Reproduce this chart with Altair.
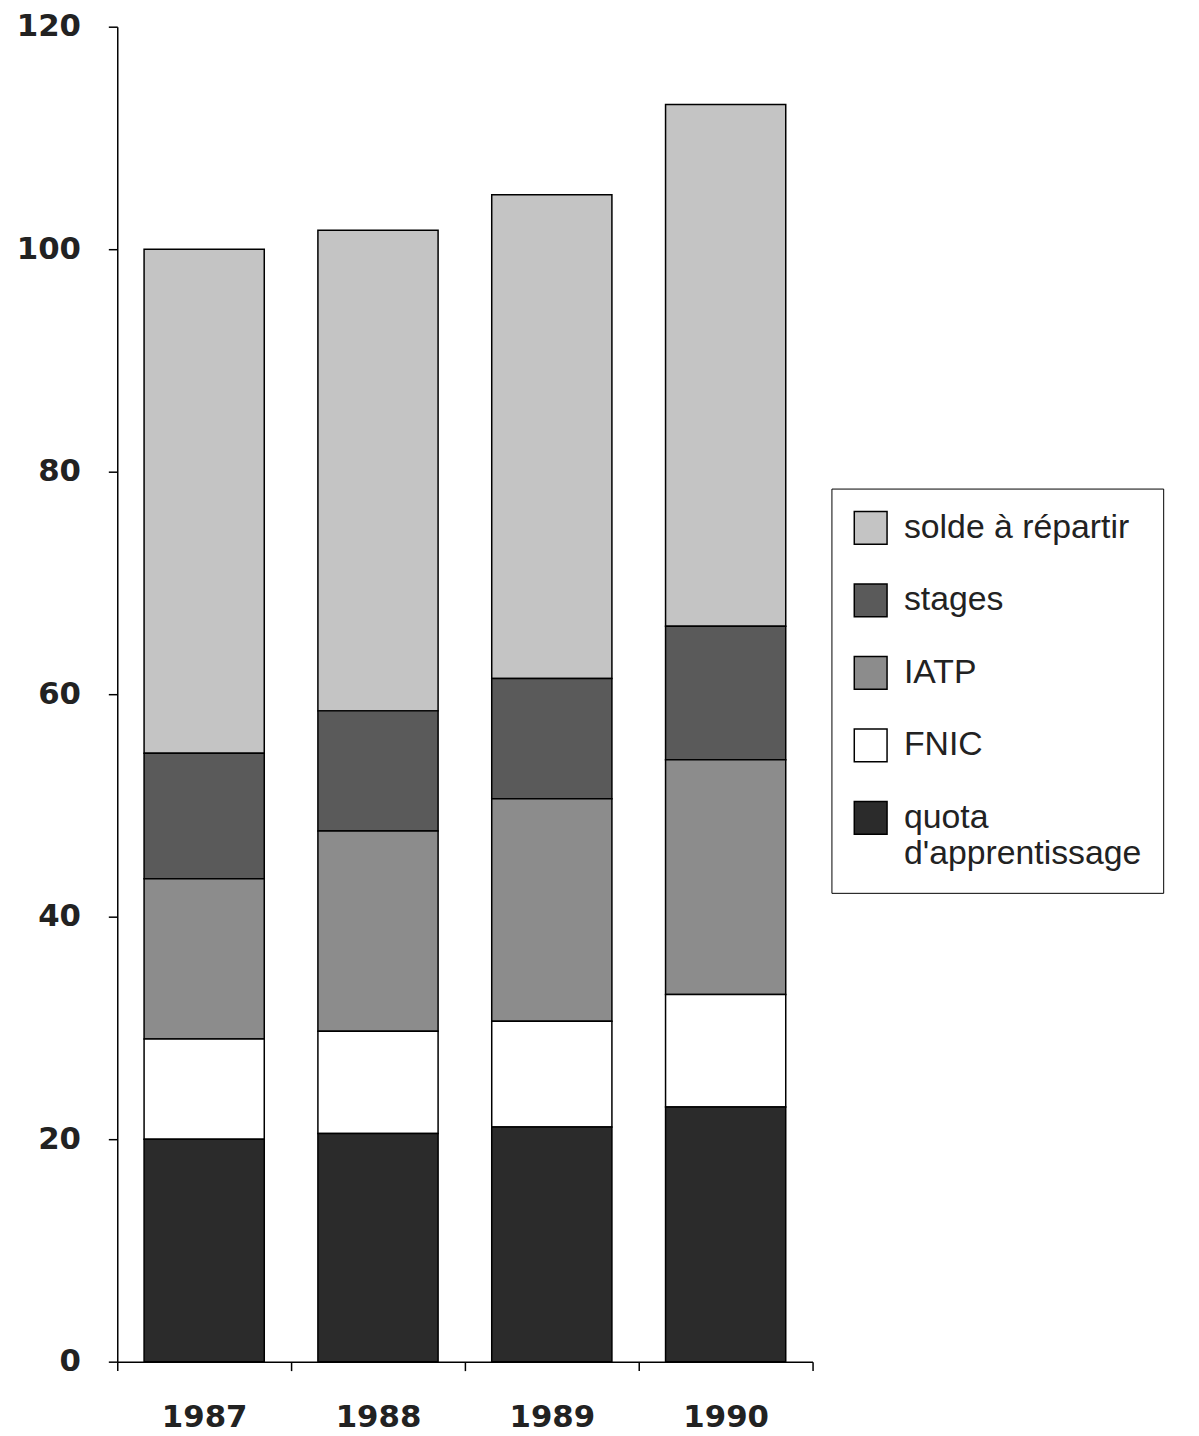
import altair as alt
import pandas as pd

years = ["1987", "1988", "1989", "1990"]
categories = ["solde à répartir", "stages", "IATP", "FNIC", "quota d'apprentissage"]
colors = ["#c4c4c4", "#5a5a5a", "#8c8c8c", "#ffffff", "#2b2b2b"]
stack_rank = [4, 3, 2, 1, 0]

quota = [20.0, 20.5, 21.1, 22.9]
fnic = [9.0, 9.2, 9.5, 10.1]
iatp = [14.4, 18.0, 20.0, 21.1]
stages = [11.3, 10.8, 10.8, 12.0]
solde = [45.3, 43.2, 43.5, 46.9]

series = {
    "solde à répartir": solde,
    "stages": stages,
    "IATP": iatp,
    "FNIC": fnic,
    "quota d'apprentissage": quota,
}

rows = []
for cat, rank in zip(categories, stack_rank):
    for y, v in zip(years, series[cat]):
        rows.append({"year": y, "cat": cat, "value": v, "rank": rank})
df = pd.DataFrame(rows)

chart = alt.Chart(df).mark_bar(stroke="black", strokeWidth=1.5, width=121).encode(
    x=alt.X("year:N", sort=years,
            scale=alt.Scale(paddingInner=0, paddingOuter=0),
            axis=alt.Axis(title=None, labelAngle=0, tickBand="extent",
                          labelFont="DejaVu Sans", labelFontWeight="bold",
                          labelFontSize=31, labelColor="#222", labelPadding=32,
                          tickSize=9, tickColor="black", tickWidth=1.5,
                          domainColor="black", domainWidth=1.5)),
    y=alt.Y("value:Q", stack="zero",
            scale=alt.Scale(domain=[0, 120], nice=False),
            axis=alt.Axis(title=None, values=[0, 20, 40, 60, 80, 100, 120],
                          grid=False, labelFont="DejaVu Sans",
                          labelFontWeight="bold", labelFontSize=31,
                          labelColor="#222", labelPadding=28,
                          tickSize=9, tickColor="black", tickWidth=1.5,
                          domainColor="black", domainWidth=1.5)),
    color=alt.Color("cat:N",
                    scale=alt.Scale(domain=categories, range=colors),
                    legend=alt.Legend(title=None, orient="none",
                                      legendX=719, legendY=465,
                                      strokeColor="black", padding=22,
                                      symbolType="square", symbolSize=1089,
                                      symbolStrokeColor="black",
                                      symbolStrokeWidth=1.5,
                                      labelFont="Liberation Sans",
                                      labelFontSize=34, labelColor="#222",
                                      labelOffset=16, labelLimit=400,
                                      rowPadding=34,
                                      labelExpr="indexof(datum.label, 'quota') == 0 ? split(datum.label, ' ') : datum.label")),
    order=alt.Order("rank:Q", sort="ascending"),
).properties(
    width=700, height=1344,
    background="white",
    autosize=alt.AutoSizeParams(type="none"),
    padding={"left": 110, "top": 14, "right": 381, "bottom": 70},
).configure_view(strokeWidth=0, stroke=None)

chart.save("out.html", embed_options={"renderer": "svg", "actions": False})
